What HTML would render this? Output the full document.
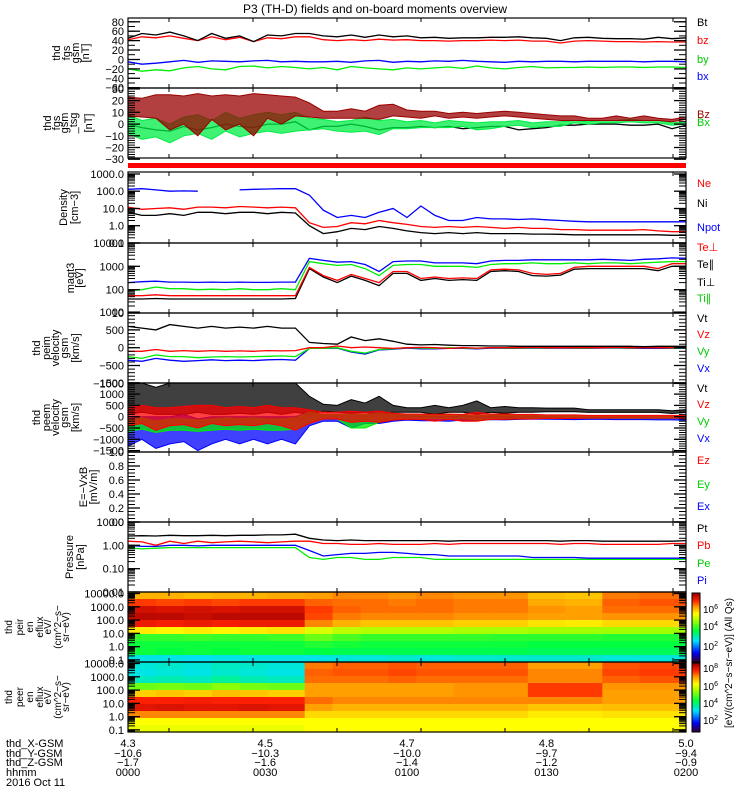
<!DOCTYPE html>
<html><head><meta charset="utf-8"><style>
html,body{margin:0;padding:0;background:#fff;}
svg{display:block;font-family:"Liberation Sans",sans-serif;}
</style></head><body>
<svg id="chart" width="750" height="800" viewBox="0 0 750 800" xmlns="http://www.w3.org/2000/svg">
<rect x="0" y="0" width="750" height="800" fill="#fff"/>
<text x="375" y="13" text-anchor="middle" font-size="12">P3 (TH-D) fields and on-board moments overview</text>
</svg>
<script>
// ---- data ----
const times=[0,3,6,9,12,15,18,21,24,27,30,33,36,39,42,45,48,51,54,57,60,63,66,69,72,75,78,81,84,87,90,93,96,99,102,105,108,111,114,117,120];
const fgsBt=[45,55,52,58,50,40,55,45,50,38,52,50,55,55,50,48,52,47,52,48,50,46,47,45,46,46,47,47,48,46,45,40,46,47,45,44,44,43,47,44,46];
const fgsBz=[42,48,46,50,45,40,48,42,47,38,46,44,48,48,42,40,42,40,43,41,42,40,40,39,40,40,41,40,41,39,39,35,39,40,39,38,38,37,38,37,37];
const fgsBy=[-5,-10,-8,-5,-2,-6,-3,-4,-5,-3,-2,-5,-4,-5,-5,-4,-6,-3,-2,-6,-4,-5,-3,-4,-2,-4,-5,-6,-4,-5,-4,-4,-5,-4,-4,-4,-4,-5,-4,-4,-5];
const fgsBx=[-20,-25,-22,-24,-18,-15,-20,-22,-15,-14,-18,-15,-17,-20,-17,-22,-15,-18,-20,-22,-18,-20,-18,-16,-19,-14,-18,-20,-17,-15,-18,-17,-17,-16,-17,-16,-16,-17,-16,-16,-17];
const tsgBz=[15,14,15,10,12,8,14,10,12,8,15,12,15,12,8,8,9,8,10,12,9,8,9,7,8,7,8,9,8,7,6,5,5,4,4,5,4,5,4,3,5];
const tsgBzAmp=[8,8,10,15,12,18,10,15,12,18,10,12,8,6,3,3,4,3,6,5,3,3,2,2,2,2,2,2,2,2,2,2,2,1,1,2,1,2,1,1,1];
const tsgBy=[0,-5,-3,-8,-2,0,-5,2,-3,0,2,0,2,0,0,-2,-2,0,-3,0,-1,0,-1,0,0,-2,-1,0,1,-1,0,0,2,1,2,2,3,2,2,0,1];
const tsgByAmp=[8,8,8,8,8,8,8,8,8,8,8,8,8,5,4,4,5,6,6,4,3,3,2,3,2,3,3,2,2,2,2,2,1,1,1,1,1,1,1,1,1];
const tsgBx=[0,-3,-5,-6,-2,-5,-3,0,-2,-3,0,0,2,-5,-2,-2,0,-2,-5,-3,-3,-2,-3,-2,-4,-3,-2,-2,-5,-4,-3,-1,-1,0,0,0,-1,-1,0,-4,-1];
const densNe=[12,9,10,11,9,12,12,11,13,12,11,12,11,1.5,0.8,0.9,1.5,1.3,2.0,1.5,1.2,0.9,0.8,0.9,0.8,0.9,0.8,0.7,0.8,0.7,0.7,0.6,0.6,0.55,0.55,0.55,0.55,0.6,0.5,0.45,0.45];
const densNi=[6,4,4,5,4,6,6,5,6,6,5,6,5.5,1.0,0.35,0.45,0.7,0.6,0.9,0.7,0.5,0.4,0.35,0.4,0.35,0.4,0.35,0.35,0.35,0.33,0.33,0.32,0.3,0.3,0.3,0.3,0.3,0.3,0.3,0.28,0.28];
const densNpot=[130,140,120,100,105,100,null,null,120,130,135,140,140,60,8,3,4,3,6,10,3,14,4,2,2,3,2.5,2.5,2.3,2.5,2.2,2,1.8,1.7,1.7,1.7,1.7,1.7,1.7,1.7,1.7];
const tempTiPerp=[200,220,230,210,210,205,210,205,210,205,205,210,210,2200,1800,1500,1600,1200,600,1600,1700,1700,1400,1400,1400,1300,1700,1800,1800,1900,1900,1900,1900,1900,2000,1900,1800,2000,2100,2300,2200];
const tempTiPar=[90,100,130,110,110,100,105,100,110,100,100,110,100,1600,1300,1100,1200,800,400,1100,1200,1200,1000,1000,1000,900,1200,1300,1300,1400,1300,1300,1400,1300,1400,1400,1300,1400,1500,1600,1600];
const tempTePerp=[55,55,60,55,55,55,55,55,55,55,55,55,55,900,400,250,450,300,200,600,600,300,350,300,320,300,700,750,700,500,450,500,900,1000,1000,1000,1000,1000,800,1300,1300];
const tempTePar=[40,40,42,40,40,40,40,40,40,40,40,40,42,800,350,200,380,250,150,500,500,250,300,250,270,250,600,650,600,400,380,420,750,800,800,800,800,800,650,1000,1000];
const peimVt=[600,550,500,650,600,550,600,550,580,550,600,550,550,150,120,100,300,200,250,180,100,80,90,70,60,60,50,50,40,40,40,40,40,40,40,40,40,30,40,40,40];
const peimVz=[-100,-100,-50,-100,-80,-100,-80,-100,-90,-100,-80,-90,-80,0,0,50,0,20,0,-20,0,10,0,-20,0,-10,0,0,0,10,0,0,0,0,0,10,0,0,0,0,0];
const peimVy=[-250,-300,-200,-250,-250,-280,-260,-250,-260,-250,-240,-230,-250,-20,-20,0,-100,-150,-50,-30,0,-10,-20,0,-10,-20,0,-10,-10,0,-10,0,-10,-10,0,0,-10,0,0,-10,-10];
const peimVx=[-350,-380,-300,-350,-380,-360,-340,-360,-350,-360,-340,-330,-350,-20,-20,-10,-120,-180,-60,-40,-10,-30,-30,-20,-20,-30,-10,-20,-20,-10,-20,-10,-20,-20,-10,-10,-20,-20,-20,-20,-20];
const peemVt=[800,900,700,800,800,900,800,800,850,800,900,800,900,500,400,350,450,400,500,350,300,300,300,300,350,400,300,300,300,300,300,300,300,250,250,250,250,250,250,200,250];
const peemVtAmp=[700,700,600,700,700,700,700,700,700,700,700,700,700,400,150,150,300,200,400,150,100,100,200,100,150,300,100,150,100,100,80,80,80,60,60,60,60,60,60,60,60];
const peemVz=[0,100,-100,0,50,0,100,0,50,0,100,0,-100,0,50,50,0,0,0,0,0,0,-50,0,-50,0,0,0,0,0,0,0,0,0,0,0,0,0,0,0,0];
const peemVzAmp=[400,400,500,400,400,500,400,400,400,400,400,400,500,300,150,150,250,200,250,150,120,120,150,120,150,200,120,120,100,100,80,80,80,60,60,60,60,60,60,60,60];
const peemVy=[-400,-300,-450,-350,-350,-400,-350,-300,-350,-300,-350,-350,-300,-50,0,0,-200,-200,-50,0,0,0,0,0,0,-50,0,0,0,0,-20,-20,-20,-20,-20,-30,-30,-30,-30,-30,-30];
const peemVyAmp=[250,250,250,250,250,250,250,250,250,250,250,250,250,250,100,100,300,300,200,100,100,80,80,80,80,100,80,80,60,60,50,50,50,40,40,40,40,40,40,40,40];
const peemVx=[-700,-500,-700,-600,-500,-800,-600,-500,-600,-500,-600,-500,-600,-100,-50,-50,-200,-100,-100,-50,-50,-80,-80,-100,-50,-80,-50,-60,-60,-50,-60,-70,-80,-80,-80,-90,-90,-90,-100,-100,-120];
const peemVxAmp=[600,500,700,600,600,700,600,500,600,500,600,500,600,300,150,150,300,200,200,150,100,100,100,100,100,100,80,80,60,60,50,50,50,40,40,40,40,40,40,40,40];
const presPt=[2.5,2.6,2.5,2.7,2.6,2.6,2.7,2.6,2.7,2.7,2.8,2.8,3.0,2.0,1.7,1.6,1.7,1.6,1.6,1.6,1.6,1.6,1.6,1.5,1.6,1.6,1.6,1.6,1.6,1.6,1.6,1.5,1.6,1.6,1.5,1.5,1.5,1.5,1.5,1.5,1.6];
const presPb=[1.5,1.4,1.0,1.5,1.2,1.5,1.3,1.4,1.5,1.4,1.3,1.4,1.5,1.5,1.2,1.2,1.1,1.1,1.2,1.1,1.1,1.1,1.2,1.1,1.2,1.2,1.2,1.2,1.2,1.2,1.2,1.1,1.2,1.2,1.1,1.1,1.1,1.1,1.1,1.2,1.2];
const presPe=[0.8,0.7,0.75,0.8,0.8,0.8,0.8,0.8,0.8,0.8,0.8,0.8,0.8,0.3,0.25,0.3,0.3,0.25,0.25,0.3,0.3,0.3,0.25,0.25,0.25,0.25,0.25,0.25,0.25,0.25,0.25,0.25,0.25,0.25,0.25,0.25,0.25,0.25,0.25,0.25,0.25];
const presPi=[1.0,0.9,0.9,1.0,1.0,0.95,1.0,1.0,1.0,1.0,1.0,1.0,1.0,0.6,0.35,0.4,0.45,0.45,0.5,0.5,0.45,0.4,0.4,0.35,0.35,0.35,0.35,0.35,0.35,0.3,0.3,0.3,0.3,0.28,0.28,0.28,0.28,0.28,0.28,0.28,0.28];
const specTimes=[0,6,12,18,24,30,38,44,50,56,62,70,78,86,94,102,110,120];
const ionSpec=[
[0.78,0.88,0.95,0.97,0.92,0.72,0.50,0.46,0.46,0.32],
[0.78,0.87,0.94,0.97,0.91,0.71,0.50,0.46,0.45,0.32],
[0.77,0.88,0.95,0.96,0.92,0.72,0.51,0.46,0.46,0.31],
[0.78,0.87,0.94,0.97,0.91,0.71,0.50,0.46,0.45,0.32],
[0.78,0.88,0.95,0.97,0.92,0.72,0.50,0.46,0.46,0.32],
[0.79,0.88,0.95,0.97,0.92,0.73,0.51,0.46,0.46,0.32],
[0.80,0.85,0.88,0.87,0.82,0.66,0.55,0.48,0.45,0.32],
[0.82,0.84,0.85,0.83,0.78,0.63,0.52,0.47,0.44,0.33],
[0.82,0.84,0.84,0.82,0.76,0.62,0.50,0.46,0.44,0.33],
[0.81,0.83,0.84,0.82,0.76,0.62,0.50,0.46,0.44,0.34],
[0.82,0.84,0.84,0.82,0.76,0.62,0.50,0.46,0.44,0.33],
[0.81,0.83,0.83,0.81,0.75,0.61,0.50,0.46,0.44,0.34],
[0.81,0.83,0.83,0.81,0.75,0.61,0.49,0.46,0.44,0.34],
[0.77,0.79,0.81,0.80,0.73,0.60,0.49,0.45,0.43,0.34],
[0.76,0.78,0.80,0.80,0.72,0.60,0.49,0.45,0.43,0.34],
[0.83,0.85,0.84,0.81,0.74,0.60,0.48,0.45,0.43,0.33],
[0.84,0.86,0.84,0.81,0.74,0.60,0.48,0.45,0.43,0.33]];
const elecSpec=[
[0.33,0.32,0.35,0.55,0.75,0.90,0.93,0.82,0.70,0.68],
[0.34,0.33,0.36,0.56,0.76,0.90,0.94,0.82,0.70,0.68],
[0.33,0.32,0.35,0.55,0.75,0.91,0.93,0.82,0.70,0.68],
[0.35,0.34,0.38,0.58,0.77,0.90,0.93,0.82,0.70,0.68],
[0.34,0.33,0.36,0.56,0.76,0.90,0.94,0.82,0.70,0.68],
[0.33,0.32,0.35,0.55,0.75,0.90,0.93,0.82,0.70,0.68],
[0.83,0.85,0.84,0.80,0.80,0.84,0.80,0.74,0.70,0.70],
[0.85,0.86,0.84,0.80,0.80,0.82,0.78,0.74,0.70,0.70],
[0.85,0.86,0.84,0.80,0.80,0.82,0.78,0.74,0.70,0.70],
[0.86,0.87,0.85,0.80,0.80,0.82,0.78,0.74,0.70,0.70],
[0.85,0.86,0.84,0.80,0.80,0.82,0.78,0.74,0.70,0.70],
[0.85,0.86,0.84,0.81,0.81,0.82,0.78,0.74,0.70,0.70],
[0.85,0.86,0.84,0.81,0.81,0.82,0.78,0.74,0.70,0.70],
[0.80,0.82,0.82,0.88,0.88,0.82,0.76,0.72,0.70,0.70],
[0.80,0.82,0.82,0.88,0.88,0.82,0.76,0.72,0.70,0.70],
[0.86,0.87,0.85,0.81,0.80,0.80,0.77,0.73,0.70,0.70],
[0.87,0.88,0.86,0.81,0.80,0.80,0.77,0.73,0.70,0.70]];
const posX=["4.3","4.5","4.7","4.8","5.0"];
const posY=["\u221210.6","\u221210.3","\u221210.0","\u22129.7","\u22129.4"];
const posZ=["\u22121.7","\u22121.6","\u22121.4","\u22121.2","\u22120.9"];
const hhmm=["0000","0030","0100","0130","0200"];
const labelTimes=[0,29.5,60,90,120];

// ---- helpers ----
const NS="http://www.w3.org/2000/svg";
const svg=document.getElementById('chart');
const X0=128,X1=686;
function mk(tag,attrs,parent){const e=document.createElementNS(NS,tag);for(const k in attrs)e.setAttribute(k,attrs[k]);(parent||svg).appendChild(e);return e;}
function xs(t){return X0+t/120*(X1-X0);}
function makeScale(p){
  if(p.log){const a=Math.log10(p.lo),b=Math.log10(p.hi);return v=>p.bot-(Math.log10(v)-a)/(b-a)*(p.bot-p.top);}
  return v=>p.bot-(v-p.lo)/(p.hi-p.lo)*(p.bot-p.top);
}
function clampY(p,y){return Math.max(p.top,Math.min(p.bot,y));}
function drawLine(p,arr,color,name){
  const ys=makeScale(p);let d="",pen=false;
  for(let i=0;i<times.length;i++){
    const v=arr[i];
    if(v===null||v===undefined){pen=false;continue;}
    d+=(pen?"L":"M")+xs(times[i]).toFixed(1)+","+clampY(p,ys(v)).toFixed(1);pen=true;
  }
  const el=mk('path',{d:d,fill:'none',stroke:color,'stroke-width':1.3});
  
  
}
function drawBand(p,arr,amp,color,name){
  const ys=makeScale(p);let up="",dn="";
  for(let i=0;i<times.length;i++){
    const x=xs(times[i]).toFixed(1);
    up+=(i?"L":"M")+x+","+clampY(p,ys(arr[i]+amp[i])).toFixed(1);
  }
  for(let i=times.length-1;i>=0;i--){
    dn+="L"+xs(times[i]).toFixed(1)+","+clampY(p,ys(arr[i]-amp[i])).toFixed(1);
  }
  const el=mk('path',{d:up+dn+"Z",fill:color,'fill-opacity':0.75,stroke:color,'stroke-width':1});
  
  
}
function cmap(v){
  const st=[[0,[48,0,64]],[0.12,[0,0,255]],[0.3,[0,224,255]],[0.45,[0,255,64]],[0.6,[160,255,0]],[0.7,[255,255,0]],[0.8,[255,160,0]],[0.9,[255,32,0]],[1,[160,0,0]]];
  v=Math.max(0,Math.min(1,v));
  for(let i=1;i<st.length;i++){if(v<=st[i][0]){const f=(v-st[i-1][0])/(st[i][0]-st[i-1][0]);const a=st[i-1][1],b=st[i][1];return "rgb("+a.map((c,k)=>Math.round(c+(b[k]-c)*f)).join(",")+")";}}
  return "rgb(160,0,0)";
}

// ---- panels ----
const panels=[
 {id:'fgs',top:18,bot:88,lo:-60.6,hi:88,log:false,ticks:[80,60,40,20,0,-20,-40,-60],fmt:v=>v<0?"\u2212"+(-v):""+v,minor:10,
  ylab:["thd","fgs","gsm","[nT]"],ylx:[60,70,79,89]},
 {id:'fgs-tsg',top:88,bot:158,lo:-29,hi:30.8,log:false,ticks:[30,20,10,0,-10,-20,-30],fmt:v=>v<0?"\u2212"+(-v):""+v,minor:2,
  ylab:["thd","fgs","gsm","_tsg","[nT]"],ylx:[51,60,68,77,92]},
 {id:'density',top:172,bot:243,lo:0.1,hi:1300,log:true,ticks:[1000,100,10,1,0.1],fmt:v=>v.toFixed(1),
  ylab:["Density","[cm\u22123]"],ylx:[67,78]},
 {id:'temperature',top:243,bot:313,lo:10,hi:10000,log:true,ticks:[10000,1000,100,10],fmt:v=>""+v,
  ylab:["magt3","[eV]"],ylx:[74,83]},
 {id:'peim-velocity',top:313,bot:383,lo:-990,hi:975,log:false,ticks:[1000,500,0,-500,-1000],fmt:v=>v<0?"\u2212"+(-v):""+v,minor:100,
  ylab:["thd","peim","velocity","gsm","[km/s]"],ylx:[40,50,59,68,79]},
 {id:'peem-velocity',top:383,bot:452,lo:-1560,hi:1490,log:false,ticks:[1500,1000,500,0,-500,-1000,-1500],fmt:v=>v<0?"\u2212"+(-v):""+v,minor:100,
  ylab:["thd","peem","velocity","gsm","[km/s]"],ylx:[40,50,59,68,79]},
 {id:'efield',top:452,bot:522,lo:0,hi:1,log:false,ticks:[1.0,0.8,0.6,0.4,0.2,0.0],fmt:v=>v.toFixed(1),minor:0.05,
  ylab:["E=\u2212VxB","[mV/m]"],ylx:[87,97]},
 {id:'pressure',top:522,bot:592,lo:0.01,hi:10,log:true,ticks:[10,1,0.1,0.01],fmt:v=>v.toFixed(2),
  ylab:["Pressure","[nPa]"],ylx:[73,84]},
 {id:'ion-spectrogram',top:592,bot:662,lo:0.07,hi:13000,log:true,ticks:[10000,1000,100,10,1,0.1],fmt:v=>v.toFixed(1),spec:true,
  ylab:["thd","peir","en","eflux","eV/","(cm^2\u2212s\u2212","sr\u2212eV)"],ylx:[12,23,33,43,51,61,69]},
 {id:'electron-spectrogram',top:662,bot:732,lo:0.07,hi:13000,log:true,ticks:[10000,1000,100,10,1,0.1],fmt:v=>v.toFixed(1),spec:true,
  ylab:["thd","peer","en","eflux","eV/","(cm^2\u2212s\u2212","sr\u2212eV)"],ylx:[12,23,33,43,51,61,69]}
];

// spectrograms first
function drawSpec(p,data,name){
  const g=mk('g',{});
  
  
  const nr=data[0].length,rh=(p.bot-p.top)/nr;
  for(let j=0;j<specTimes.length-1;j++){
    const x0=xs(specTimes[j]),x1=xs(specTimes[j+1]);
    for(let r=0;r<nr;r++){
      const c=mk('rect',{x:x0.toFixed(1),y:(p.top+r*rh).toFixed(1),width:(x1-x0+0.6).toFixed(1),height:(rh+0.6).toFixed(1),fill:cmap(data[j][r])},g);
      
      
    }
  }
}
drawSpec(panels[8],ionSpec,'ion-energy-spectrogram');
drawSpec(panels[9],elecSpec,'electron-energy-spectrogram');

// series
const P=panels;
drawLine(P[0],fgsBx,'#00ee00','fgs-bx-line');
drawLine(P[0],fgsBy,'#0000ff','fgs-by-line');
drawLine(P[0],fgsBz,'#ff0000','fgs-bz-line');
drawLine(P[0],fgsBt,'#000000','fgs-bt-line');
drawLine(P[1],tsgBx,'#000000','tsg-bx-line');
drawBand(P[1],tsgBy,tsgByAmp,'#00ee44','tsg-by-band');
drawBand(P[1],tsgBz,tsgBzAmp,'#990000','tsg-bz-band');
const red=mk('rect',{x:X0,y:163,width:X1-X0,height:5,fill:'#ff0000'});


drawLine(P[2],densNpot,'#0000ff','density-npot-line');
drawLine(P[2],densNi,'#000000','density-ni-line');
drawLine(P[2],densNe,'#ff0000','density-ne-line');
drawLine(P[3],tempTePar,'#000000','temp-tepar-line');
drawLine(P[3],tempTePerp,'#ff0000','temp-teperp-line');
drawLine(P[3],tempTiPar,'#00ee00','temp-tipar-line');
drawLine(P[3],tempTiPerp,'#0000ff','temp-tiperp-line');
drawLine(P[4],peimVx,'#0000ff','peim-vx-line');
drawLine(P[4],peimVy,'#00ee00','peim-vy-line');
drawLine(P[4],peimVz,'#ff0000','peim-vz-line');
drawLine(P[4],peimVt,'#000000','peim-vt-line');
drawBand(P[5],peemVt,peemVtAmp,'#000000','peem-vt-band');
drawBand(P[5],peemVx,peemVxAmp,'#0000ff','peem-vx-band');
drawBand(P[5],peemVy,peemVyAmp,'#00ee00','peem-vy-band');
drawBand(P[5],peemVz,peemVzAmp,'#ff0000','peem-vz-band');
drawLine(P[7],presPe,'#00ee00','pressure-pe-line');
drawLine(P[7],presPi,'#0000ff','pressure-pi-line');
drawLine(P[7],presPb,'#ff0000','pressure-pb-line');
drawLine(P[7],presPt,'#000000','pressure-pt-line');

// axes, ticks, labels
panels.forEach(p=>{
  const ys=makeScale(p);
  const box=mk('rect',{x:X0,y:p.top,width:X1-X0,height:p.bot-p.top,fill:'none',stroke:'#000','stroke-width':1.2});
  
  
  // time ticks
  for(let x=169;x<X1;x+=84){
    const t1=mk('line',{x1:x,y1:p.top,x2:x,y2:p.top+4,stroke:'#000'});
    
    
    const t2=mk('line',{x1:x,y1:p.bot,x2:x,y2:p.bot-4,stroke:'#000'});
    
    
  }
  // minor ticks
  let minors=[];
  if(p.log){const a=Math.floor(Math.log10(p.lo)),b=Math.ceil(Math.log10(p.hi));for(let e=a;e<b;e++)for(let m=1;m<10;m++)minors.push(m*Math.pow(10,e));}
  else{for(let v=Math.ceil(p.lo/p.minor)*p.minor;v<=p.hi;v+=p.minor)minors.push(v);}
  minors.forEach(v=>{
    const y=ys(v);if(y<p.top||y>p.bot)return;
    const l=mk('line',{x1:X0,y1:y.toFixed(1),x2:X0+7,y2:y.toFixed(1),stroke:'#000','stroke-width':1});
    
    
    const r=mk('line',{x1:X1,y1:y.toFixed(1),x2:X1-7,y2:y.toFixed(1),stroke:'#000','stroke-width':1});
    
    
  });
  p.ticks.forEach(v=>{
    const y=ys(v);
    const l=mk('line',{x1:X0,y1:y.toFixed(1),x2:X0+12,y2:y.toFixed(1),stroke:'#000','stroke-width':1.3});
    
    
    const r=mk('line',{x1:X1,y1:y.toFixed(1),x2:X1-12,y2:y.toFixed(1),stroke:'#000','stroke-width':1.3});
    
    
    const tx=mk('text',{x:124,y:(y+4).toFixed(1),'text-anchor':'end','font-size':11});
    tx.textContent=p.fmt(v);
    
    
  });
  const cy=(p.top+p.bot)/2;
  p.ylab.forEach((s,i)=>{
    const tx=mk('text',{x:p.ylx[i],y:cy,'text-anchor':'middle','font-size':p.spec?10:11,transform:'rotate(-90 '+p.ylx[i]+' '+cy+')'});
    tx.textContent=s;
    
    
  });
});

// legends
const legends=[["Bt","#000",26],["bz","#f00",44],["by","#0c0",63],["bx","#00f",80],
["Bz","#900",118],["Bx","#0c0",126],
["Ne","#f00",187],["Ni","#000",207],["Npot","#00f",231],
["Te\u22a5","#f00",251],["Te\u2225","#000",268],["Ti\u22a5","#000",286],["Ti\u2225","#0c0",302],
["Vt","#000",322],["Vz","#f00",338],["Vy","#0c0",355],["Vx","#00f",372],
["Vt","#000",392],["Vz","#f00",408],["Vy","#0c0",425],["Vx","#00f",442],
["Ez","#f00",464],["Ey","#0c0",488],["Ex","#00f",510],
["Pt","#000",532],["Pb","#f00",549],["Pe","#0c0",567],["Pi","#00f",584]];
legends.forEach(l=>{
  const t=mk('text',{x:697,y:l[2],fill:l[1],'font-size':11});
  t.textContent=l[0];
  
  
});

// colorbars
function colorbar(top,bot,labels,name){
  const g=mk('g',{});
  
  
  const n=40,h=(bot-top)/n;
  for(let i=0;i<n;i++){
    const r=mk('rect',{x:692,y:(top+i*h).toFixed(2),width:8,height:(h+0.5).toFixed(2),fill:cmap(1-i/(n-1))},g);
    
    
  }
  const f=mk('rect',{x:692,y:top,width:8,height:bot-top,fill:'none',stroke:'#000'},g);
  
  
  labels.forEach(l=>{
    const t=mk('text',{x:703,y:l[1],'font-size':10},g);
    t.textContent="10";
    const s=mk('tspan',{dy:-4,'font-size':7},t);
    s.textContent=l[0];
    
    
  });
}
colorbar(593,662,[["6",613],["4",630],["2",650]],'ion-colorbar');
colorbar(663,732,[["8",672],["6",690],["4",707],["2",724]],'electron-colorbar');
const cbt=mk('text',{x:732,y:663,'text-anchor':'middle','font-size':10,transform:'rotate(-90 732 663)'});
cbt.textContent="[eV/(cm^2\u2212s\u2212sr\u2212eV)] (All Qs)";



// bottom annotation
const rowNames=["thd_X-GSM","thd_Y-GSM","thd_Z-GSM","hhmm","2016 Oct 11"];
const rowY=[747,757,766,776,786];
rowNames.forEach((s,i)=>{
  const t=mk('text',{x:6,y:rowY[i],'font-size':11});
  t.textContent=s;
  
  
});
[posX,posY,posZ,hhmm].forEach((row,ri)=>{
  row.forEach((s,i)=>{
    const t=mk('text',{x:xs(labelTimes[i]).toFixed(1),y:rowY[ri],'text-anchor':'middle','font-size':11});
    t.textContent=s;
    
    
  });
});
</script>
</body></html>
